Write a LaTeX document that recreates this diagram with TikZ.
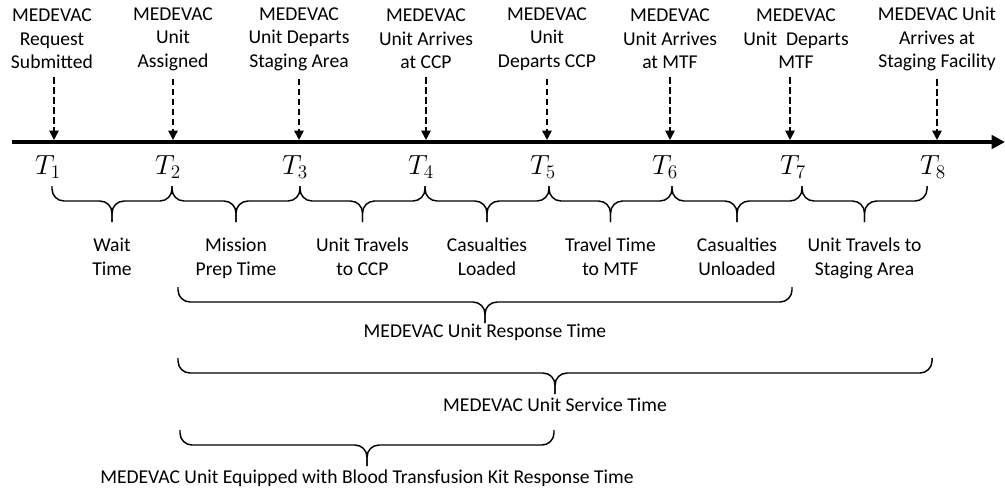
\documentclass[tikz,border=0pt]{standalone}
\usepackage{fontspec}
\setmainfont{Carlito}
\usetikzlibrary{arrows.meta,positioning}
\tikzset{
  lbl/.style={align=center,font=\fontsize{14.7}{17.6}\selectfont,inner sep=0pt},
  tlbl/.style={font=\fontsize{21}{24}\selectfont,inner sep=0pt},
  evt/.style={line width=1.2pt,dash pattern=on 5pt off 2.5pt,shorten <=6pt,-{Triangle[length=7pt,width=7pt]}},
  brc/.style={line width=1.1pt,rounded corners=9pt},
}
% brace opening upwards: left x, right x, top y, name of the tip
\newcommand{\tbrace}[4]{%
  \pgfmathsetmacro{\bmid}{(#1+#2)/2}
  \coordinate (#4) at (\bmid,#3+36);
  \draw[brc] (#1,#3) -- (#1,#3+15) -- (\bmid,#3+15) -- (#4);
  \draw[brc] (#2,#3) -- (#2,#3+15) -- (\bmid,#3+15) -- (#4);
}
\begin{document}
\begin{tikzpicture}[x=0.75pt,y=-0.75pt]
\useasboundingbox (0,0) rectangle (1005,496);

% time axis
\coordinate (a0) at (12,142);
\coordinate (a1) at (1005,142);
\draw[line width=3pt,-{Triangle[length=10pt,width=10pt]}] (a0) -- (a1);

% events
\coordinate (t1) at (54,140);
\coordinate (t2) at (173,140);
\coordinate (t3) at (299,140);
\coordinate (t4) at (426,140);
\coordinate (t5) at (547,140);
\coordinate (t6) at (670,140);
\coordinate (t7) at (790,140);
\coordinate (t8) at (937,140);

\node[lbl] (e1) at (52,39) {MEDEVAC\\Request\\Submitted};
\node[lbl] (e2) at (173,39) {MEDEVAC\\Unit\\Assigned};
\node[lbl] (e3) at (299,39) {MEDEVAC\\Unit Departs\\Staging Area};
\node[lbl] (e4) at (426,39) {MEDEVAC\\Unit Arrives\\at CCP};
\node[lbl] (e5) at (547,39) {MEDEVAC\\Unit\\Departs CCP};
\node[lbl] (e6) at (670,39) {MEDEVAC\\Unit Arrives\\at MTF};
\node[lbl] (e7) at (796,39) {MEDEVAC\\Unit~~Departs\\MTF};
\node[lbl] (e8) at (937,39) {MEDEVAC Unit\\Arrives at\\Staging Facility};

\draw[evt] (e1.south -| t1) -- (t1);
\draw[evt] (e2.south -| t2) -- (t2);
\draw[evt] (e3.south -| t3) -- (t3);
\draw[evt] (e4.south -| t4) -- (t4);
\draw[evt] (e5.south -| t5) -- (t5);
\draw[evt] (e6.south -| t6) -- (t6);
\draw[evt] (e7.south -| t7) -- (t7);
\draw[evt] (e8.south -| t8) -- (t8);

\node[tlbl] (T1) at (48,167) {$T_1$};
\node[tlbl] (T2) at (168,167) {$T_2$};
\node[tlbl] (T3) at (295,167) {$T_3$};
\node[tlbl] (T4) at (421,167) {$T_4$};
\node[tlbl] (T5) at (543,167) {$T_5$};
\node[tlbl] (T6) at (665,167) {$T_6$};
\node[tlbl] (T7) at (793,167) {$T_7$};
\node[tlbl] (T8) at (933,167) {$T_8$};

% intervals
\tbrace{52}{172}{186}{b1}
\tbrace{172}{300}{186}{b2}
\tbrace{300}{425}{186}{b3}
\tbrace{425}{549}{186}{b4}
\tbrace{549}{672}{186}{b5}
\tbrace{672}{802}{186}{b6}
\tbrace{802}{927}{186}{b7}

\node[lbl,below=12pt of b1] (d1) {Wait\\Time};
\node[lbl,below=12pt of b2] (d2) {Mission\\Prep Time};
\node[lbl,below=12pt of b3] (d3) {Unit Travels\\to CCP};
\node[lbl,below=12pt of b4] (d4) {Casualties\\Loaded};
\node[lbl,below=12pt of b5] (d5) {Travel Time\\to MTF};
\node[lbl,below=12pt of b6] (d6) {Casualties\\Unloaded};
\node[lbl,below=12pt of b7] (d7) {Unit Travels to\\Staging Area};

% totals
\tbrace{178}{792}{287}{r1}
\node[lbl,below=0.5pt of r1] (resp) {MEDEVAC Unit Response Time};
\tbrace{178}{932}{358}{r2}
\node[lbl,below=3pt of r2] (serv) {MEDEVAC Unit Service Time};
\tbrace{180}{554}{430}{r3}
\node[lbl,below=3pt of r3] (kit) {MEDEVAC Unit Equipped with Blood Transfusion Kit Response Time};
\end{tikzpicture}
\end{document}
